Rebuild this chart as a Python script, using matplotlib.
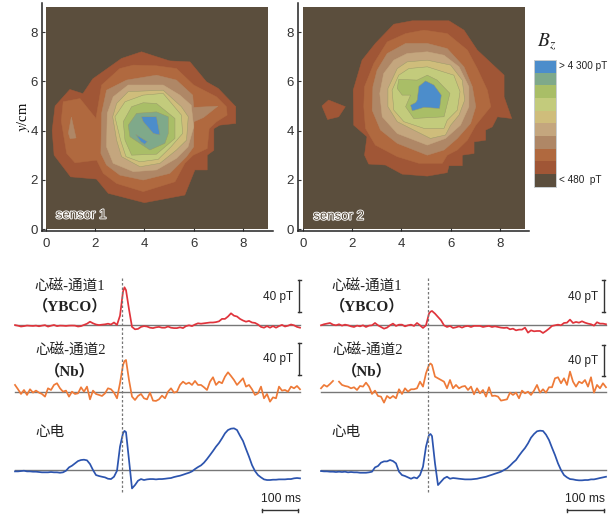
import numpy as np
import matplotlib
matplotlib.use('Agg')
import matplotlib.pyplot as plt
import matplotlib.patheffects as pe

W, H = 616, 514
SANS = ['Liberation Sans', 'DejaVu Sans']
CJK = ['Noto Sans CJK SC', 'DejaVu Sans']
SERIF_CJK = ['Liberation Serif', 'Noto Sans CJK SC']
plt.rcParams['mathtext.fontset'] = 'stix'

# colour scale, lowest to highest
level_colors = ['#5B4E3D', '#A05636', '#B0693F', '#AF8766', '#C4A67E',
                '#CFBD7B', '#C3CB7C', '#A9BE67', '#7FA98A', '#4C8DCB']

# contour outlines in cm, (level, outline)
sensor1_bands = [
    (1, [(3.88,7.2),(3.07,6.93),(1.9,6.1),(1.5,5.5),(.97,5.67),(.37,5.0),(.25,4.0),(.33,3.0),(1.0,2.12),(2.05,2.03),(2.53,1.45),(4.0,1.07),(5.64,1.38),(6.05,2.4),(6.55,2.4),(6.55,3.0),(6.82,3.2),(6.82,4.08),(7.06,4.22),(7.71,4.29),(7.71,4.97),(7.0,5.71),(6.52,5.98),(5.85,6.79),(5.03,6.83),(4.49,7.0)]),
    (2, [(3.55,6.66),(3.0,6.52),(2.26,5.85),(2.03,4.49),(1.38,5.3),(.7,5.17),(.62,4.4),(.84,3.07),(1.18,2.69),(2.06,2.8),(2.33,2.26),(2.87,1.85),(3.95,1.52),(5.24,1.92),(5.64,2.67),(5.98,3.0),(6.55,3.27),(6.63,4.08),(6.93,4.36),(7.36,4.63),(7.33,4.97),(6.93,5.37),(6.0,5.85),(5.3,6.52),(4.49,6.63)]),
    (3, [(1.03,4.55),(.91,3.9),(.98,3.67),(1.22,3.7)]),
    (3, [(3.27,6.05),(2.46,5.64),(2.26,4.7),(2.23,3.07),(2.46,2.6),(3.0,2.19),(3.95,1.99),(5.03,2.26),(5.71,2.94),(6.0,3.34),(6.01,4.36),(6.4,4.53),(6.98,4.99),(6.0,4.94),(5.96,5.44),(5.3,6.05),(4.49,6.25)]),
    (4, [(3.34,5.85),(2.73,5.37),(2.49,4.7),(2.46,3.34),(2.73,2.67),(3.55,2.33),(4.49,2.4),(5.3,2.87),(5.77,3.34),(6.0,4.15),(5.9,5.03),(5.44,5.44),(4.76,5.85)]),
    (5, [(3.34,5.58),(2.87,5.1),(2.71,4.56),(2.87,3.61),(3.07,2.94),(3.82,2.53),(4.63,2.67),(5.3,3.21),(5.71,3.61),(5.78,4.56),(5.5,4.97),(4.76,5.64)]),
    (6, [(3.21,5.17),(2.8,4.56),(3.03,3.61),(3.25,2.94),(3.82,2.73),(4.56,2.83),(5.08,3.34),(5.55,3.88),(5.5,4.63),(4.76,5.51),(3.95,5.44)]),
    (7, [(3.48,4.97),(3.14,4.36),(3.21,3.61),(3.48,3.0),(4.49,3.04),(5.24,3.68),(5.24,4.49),(4.49,5.1),(3.95,5.13)]),
    (8, [(3.68,4.7),(3.34,4.22),(3.41,3.75),(4.22,3.21),(4.83,3.48),(4.97,3.88),(4.97,4.56),(4.49,4.76)]),
    (9, [(3.88,4.56),(4.49,4.56),(4.63,3.82),(4.36,3.88),(3.95,4.36)]),
    (9, [(3.65,3.84),(4.12,3.55),(4.01,3.44),(3.85,3.55)]),
]
sensor2_bands = [
    (1, [(1.04,5.24),(1.72,4.97),(1.45,4.56),(1.0,4.45),(.77,5.0)]),
    (1, [(3.69,8.32),(4.44,8.46),(5.93,8.46),(6.54,8.08),(7.08,7.27),(8.17,6.25),(8.17,5.37),(8.48,4.49),(7.9,4.56),(7.69,4.15),(7.42,4.02),(7.42,3.61),(6.95,3.54),(6.95,3.07),(6.47,3.0),(6.47,2.57),(5.93,2.57),(5.86,2.29),(5.05,2.15),(4.03,2.23),(3.35,2.6),(2.67,2.64),(2.5,3.0),(2.6,3.75),(2.06,4.22),(2.04,5.64),(2.4,6.86),(2.94,7.54)]),
    (2, [(3.42,7.6),(4.17,7.94),(4.91,8.08),(5.86,7.94),(6.68,7.27),(7.08,6.52),(7.49,5.64),(7.63,4.97),(7.02,4.22),(6.68,3.61),(6.27,3.21),(5.86,3.0),(5.66,2.67),(4.71,2.67),(3.83,2.94),(2.94,3.41),(2.54,4.09),(2.47,4.97),(2.5,5.78),(2.88,6.73)]),
    (3, [(4.17,7.54),(3.42,7.13),(3.01,6.45),(2.84,5.78),(2.81,4.83),(3.15,4.02),(3.83,3.48),(5.05,3.0),(5.73,3.21),(6.27,3.68),(6.81,4.29),(7.02,4.97),(6.88,5.78),(6.54,6.59),(5.86,7.33),(5.05,7.54)]),
    (4, [(4.23,7.13),(3.69,6.86),(3.28,6.32),(3.12,5.51),(3.22,4.56),(3.83,3.88),(5.05,3.41),(5.79,3.68),(6.4,4.22),(6.74,4.97),(6.74,5.78),(6.34,6.59),(5.73,7.06),(5.05,7.2)]),
    (5, [(4.23,6.79),(3.83,6.52),(3.45,5.71),(3.45,4.97),(3.83,4.36),(4.5,4.02),(5.18,3.68),(5.79,3.82),(6.0,4.22),(6.34,4.63),(6.57,5.24),(6.47,6.05),(6.0,6.66),(5.05,6.86)]),
    (6, [(4.3,6.52),(3.89,6.25),(3.62,5.64),(3.69,4.83),(4.1,4.36),(4.91,4.09),(5.73,4.09),(5.86,4.42),(6.27,4.83),(6.38,5.58),(6.13,6.25),(5.05,6.59)]),
    (7, [(3.89,6.08),(3.83,5.71),(4.03,5.44),(4.37,5.44),(4.17,4.97),(4.5,4.49),(5.73,4.56),(5.97,5.51),(5.45,6.05),(5.05,6.25),(4.64,6.05)]),
    (9, [(4.98,6.02),(4.71,5.8),(4.64,5.24),(4.58,5.14),(4.37,5.03),(4.44,4.8),(4.91,4.94),(5.55,4.9),(5.62,5.44),(5.32,5.85)]),
]
map_ticks = [0, 2, 4, 6, 8]
cbar_labels = ['> 4 300 pT', '< 480  pT']

# traces in pT, one sample every 8.4 ms plus one at the R peak
dt = 8.4
sample_index = list(range(37)) + [36.5] + list(range(37, 96))
ybco_left = [.3,-.5,-1.5,-1,-.3,-.6,-.8,-.4,-1.2,-.4,.2,-1.6,-.5,.4,-1,-.4,-.5,-.8,-.4,-.3,-.4,-1.5,-1,.5,2,4.5,2.5,1,.3,.8,1.2,2,1,3.5,.5,12,42,47.5,44,20,-2,-5,-4.5,-2,-1,-1.5,-3,-3.5,-2.5,-2,-3,-3,-1.5,-3,-3.5,-3.5,-2.5,-3.5,-1,0,-1,1,2.5,2,2.5,3,3.5,3.5,4,5,8,8,11,15,12,11,8,6,4.5,5.5,3.5,3,1,-2,-3,-1,-3,-1,-3,-1,.5,-1.5,-.5,1,0,-2,-3]
nb_left = [9.2,3.8,-2.1,2.9,-3.3,3.8,-.4,2.1,-.4,-2.1,-5.4,5,2.9,9.2,11.3,5,.8,2.1,-5.4,.8,-2.1,-1.3,6.3,.8,7.1,-8.8,2.1,-2.1,-3.3,-4.6,-1.3,5,3.8,-.4,-7.5,11.3,34.2,39,40.4,15.4,-5.4,-9.6,-4.6,-2.1,-7.5,-8.8,-.4,-10.4,-10.8,-8.8,-4.2,-7.5,.8,5,-.4,.8,9.2,13.3,10.4,12.1,9.2,14.2,9.2,9.2,6.3,2.9,13.3,18.8,9.2,13.3,11.3,19.6,25,20.4,15.4,9.2,13.3,17.5,7.1,9.2,3.8,-3.3,-1.3,7.1,-7.5,-2.1,-11.7,-6.3,-7.5,7.1,2.1,2.9,.8,7.1,5,7.9,3.8]
ecg_left = [-2.1,-2.1,-1.7,-1.3,-2.1,-2.1,-2.5,-2.5,-2.9,-3.3,-3.3,-3.3,-2.9,-3.3,-3.3,-3.8,-3.3,-1.3,2.9,5,7.9,10.8,12.1,12.5,11.7,7.1,-.4,-6.7,-7.9,-8.8,-9.6,-11.3,-11.7,-8.8,-1.3,28.8,45.5,48.5,47,12.1,-23.4,-19.2,-13.8,-11.7,-12.9,-12.1,-11.7,-11.7,-12.1,-11.7,-11.7,-11.3,-10.8,-10.4,-9.2,-8.3,-7.5,-6.3,-5,-3.8,-2.1,.8,3.3,5.4,8.8,13.3,18.3,23.4,28.8,33.4,39.2,45.5,49.6,51.3,51.7,49.6,42.5,35.9,25.9,16.3,5.8,-1.7,-6.7,-9.6,-12.1,-12.9,-12.9,-12.5,-12.5,-12.1,-12.1,-12.1,-11.7,-11.7,-10.8,-10.4,-10.8]
ybco_right = [0,1.3,2.1,2.9,.8,0,1.3,-.4,.8,0,-1.3,-2.1,-.4,-1.3,0,-2.1,-.4,0,2.9,0,-2.1,-4.2,-2.9,0,2.1,-.8,.8,.8,-1.3,0,.8,-.8,2.9,0,-3.3,0,14.6,17,17.9,14.6,10.4,6.3,0,-2.1,-.8,-3.3,-2.5,-1.3,-2.9,-1.3,-.8,-2.1,-.8,-.8,-.8,-2.1,-1.3,-.8,-2.1,-1.3,-2.1,-2.9,-3.3,-2.9,-5,-4.2,-6.3,-5.4,-5.4,-2.9,-9.2,-6.3,-7.5,-7.1,-7.1,-9.6,-7.1,-4.2,-.8,0,.8,0,2.9,3.3,7.1,2.9,4.2,3.3,5,3.3,2.1,1.3,-.4,3.8,2.1,2.1,1.3]
nb_right = [5,9.2,7.1,10.4,14.2,np.nan,13.3,9.2,7.9,7.1,5,6.3,2.9,7.9,7.1,12.1,7.1,-2.1,2.1,-4.6,-5.4,-12.9,-4.6,-7.5,-4.6,-7.5,3.8,-2.1,5,.8,3.8,3.8,5,13.3,7.1,23.8,34.2,36,34.2,19.6,17.5,15.4,13.3,5,15.4,5,9.2,5,7.1,7.9,2.9,7.1,-2.5,5,-1.3,2.9,-5.4,6.3,-4.6,-4.2,-5.4,-10.4,-9.6,-8.8,-.4,-3.3,-.4,-7.5,2.1,-1.3,.8,-3.3,2.1,9.2,-.4,3.8,-.4,6.3,6.3,17.5,18.8,11.3,17.5,9.2,25.9,13.3,7.1,13.3,11.3,15.4,7.1,18.8,-.4,9.2,5,11.3,6.3]
ecg_right = [-1.7,-2.1,-2.1,-2.5,-2.5,-2.9,-2.5,-2.9,-2.5,-3.3,-2.9,-3.3,-3.3,-3.8,-3.8,-3.8,-3.3,-2.5,2.9,4.6,8.8,10.4,10.4,12.1,10.8,7.9,-2.5,-6.7,-7.9,-9.6,-11.3,-9.6,-10.8,-6.7,3.8,28.8,43.4,44.6,42,7.9,-19.2,-15,-10.8,-8.8,-11.3,-10.4,-10.8,-11.3,-11.7,-12.1,-12.1,-12.1,-11.7,-11.3,-10.4,-9.6,-8.8,-7.5,-6.3,-5,-3.8,-2.5,-.4,1.7,5,8.8,12.1,17.5,22.5,27.1,32.9,40,44.6,48,48.8,48.4,43.8,37.1,27.5,18.3,7.9,-.4,-6.7,-9.6,-11.7,-12.1,-12.9,-13.3,-13.3,-12.9,-12.9,-12.1,-12.1,-11.3,-10.4,-9.6,-8.8]


def px_axes(fig, x0, y0, x1, y1):
    # axes from pixel box, y measured from the top
    return fig.add_axes([x0/W, 1-y1/H, (x1-x0)/W, (y1-y0)/H])


def draw_map(fig, box, x0px, bands, name, name_pos):
    ax = px_axes(fig, *box)
    unit = 221.5/9
    ax.set_xlim((box[0]-x0px)/unit, (box[2]-x0px)/unit)
    ax.set_ylim((229-box[3])/unit, (229-box[1])/unit)
    ax.fill([0, 9, 9, 0], [0, 0, 9, 9], color=level_colors[0], lw=0)
    for lev, outline in bands:
        xs, ys = zip(*outline)
        edge = '#9A9A6A' if lev >= 5 else level_colors[lev]
        ax.fill(xs, ys, facecolor=level_colors[lev], edgecolor=edge, lw=.35)
    for s in ['top', 'right']:
        ax.spines[s].set_visible(False)
    for s in ['left', 'bottom']:
        ax.spines[s].set_linewidth(1.1)
        ax.spines[s].set_color('#222222')
    ax.set_xticks(map_ticks)
    ax.set_yticks(map_ticks)
    ax.tick_params(direction='in', length=2.5, width=.8, labelsize=9.5, pad=3, colors='#333333')
    ax.tick_params(axis='x', pad=5)
    for lab in ax.get_xticklabels() + ax.get_yticklabels():
        lab.set_family(SANS)
    ax.text(name_pos[0], name_pos[1], name, family=SANS, fontsize=9.5, color=level_colors[0], va='center',
            path_effects=[pe.withStroke(linewidth=1.3, foreground='white')])
    return ax


def draw_traces(fig, x_shift, ybco, nb, ecg, xtext, dash_px, bars, bar_x, text40_x, len_bar, len_text_x):
    ax = fig.add_axes([x_shift/W, 0, 310/W, 244/H])
    ax.axis('off')
    # x in ms with 15 px as zero, y in pT with 1.25 pT per px
    ax.set_xlim(-15*2.8, 295*2.8)
    ax.set_ylim(0, 305)
    base_y = [(514-325.3)*1.25, (514-392.3)*1.25, (514-469.7)*1.25]
    tr_color = ['#E0343C', '#EE7A38', '#2C54AE']
    t = np.array(sample_index)*dt
    for vals, base, col in zip([ybco, nb, ecg], base_y, tr_color):
        ax.plot([t[0], t[-1]], [base, base], color='#777777', lw=1)
        ax.plot(t, np.array(vals)+base, color=col, lw=1.25)
    tx = (dash_px-15)*2.8
    ax.plot([tx, tx], [(514-491.7)*1.25, (514-277)*1.25], color='#777777', lw=.9, ls=(0, (2, 1.6)))

    def y(p):
        return (514-p)*1.25

    def x(p):
        return (p-15)*2.8
    for (top, bot), ty in bars:
        ax.plot([x(bar_x)]*2, [y(top), y(bot)], color='#333333', lw=1)
        for p in (top, bot):
            ax.plot([x(bar_x-1.7), x(bar_x+1.7)], [y(p)]*2, color='#333333', lw=1)
        ax.text(x(text40_x), y(ty), '40 pT', family=SANS, fontsize=8.5, ha='right', va='center', color='#222222')
    ax.plot([x(len_bar[0]), x(len_bar[1])], [y(510)]*2, color='#333333', lw=1)
    for p in len_bar:
        ax.plot([x(p)]*2, [y(508.5), y(511.5)], color='#333333', lw=1)
    ax.text(x(len_text_x), y(499), '100 ms', family=SANS, fontsize=8.7, ha='center', va='center', color='#222222')
    for s, px, py, fam, size, weight in [('心磁-通道1', xtext[0], 287, SERIF_CJK, 10.5, 'normal'),
                                         ('（YBCO）', xtext[0], 306, SERIF_CJK, 11, 'bold'),
                                         ('心磁-通道2', xtext[0]+.5, 351, SERIF_CJK, 10.5, 'normal'),
                                         ('（Nb）', xtext[0], 371, SERIF_CJK, 11, 'bold'),
                                         ('心电', xtext[1], 432, CJK, 10.5, 'normal')]:
        ax.text(x(px), y(py), s, family=fam, fontsize=size, ha='center', va='center', color='#222222', weight=weight)


def main():
    fig = plt.figure(figsize=(W/100, H/100), dpi=100)

    ax1 = draw_map(fig, (42.3, 3, 272.7, 231), 46, sensor1_bands, 'sensor 1', (.4, .55))
    ax1.set_ylabel(r'$y$/cm', family=['Liberation Serif'], fontsize=10.5, labelpad=-1)
    draw_map(fig, (298.3, 3, 528.7, 231), 303, sensor2_bands, 'sensor 2', (.42, .5))

    # colour key
    cax = px_axes(fig, 534, 60, 556.3, 186.7)
    for i, col in enumerate(level_colors):
        cax.bar(0, 1, bottom=i, width=1, color=col, lw=0)
    cax.set_xlim(-.5, .5)
    cax.set_ylim(0, len(level_colors))
    cax.set_xticks([])
    cax.set_yticks([])
    for s in cax.spines.values():
        s.set_color('#C8CDD0')
        s.set_linewidth(.7)
    fig.text(547/W, 1-42/H, r'$B_z$', fontsize=14, ha='center', va='center', color='#222222')
    fig.text(559/W, 1-66/H, cbar_labels[0], family=SANS, fontsize=7.2, va='center', color='#222222')
    fig.text(559/W, 1-180/H, cbar_labels[1], family=SANS, fontsize=7.2, va='center', color='#222222')

    draw_traces(fig, 0, ybco_left, nb_left, ecg_left, (70, 50), 121.7,
                [((280, 311.7), 296.7), ((342.7, 375), 359.3)], 299.3, 293, (262, 298), 280.7)
    draw_traces(fig, 306, ybco_right, nb_right, ecg_right, (61, 40.5), 122,
                [((280, 311.7), 296.7), ((345, 376), 360.7)], 297.7, 291.7, (261, 297.5), 279)

    fig.savefig('out.png', dpi=100)


if __name__ == '__main__':
    main()
